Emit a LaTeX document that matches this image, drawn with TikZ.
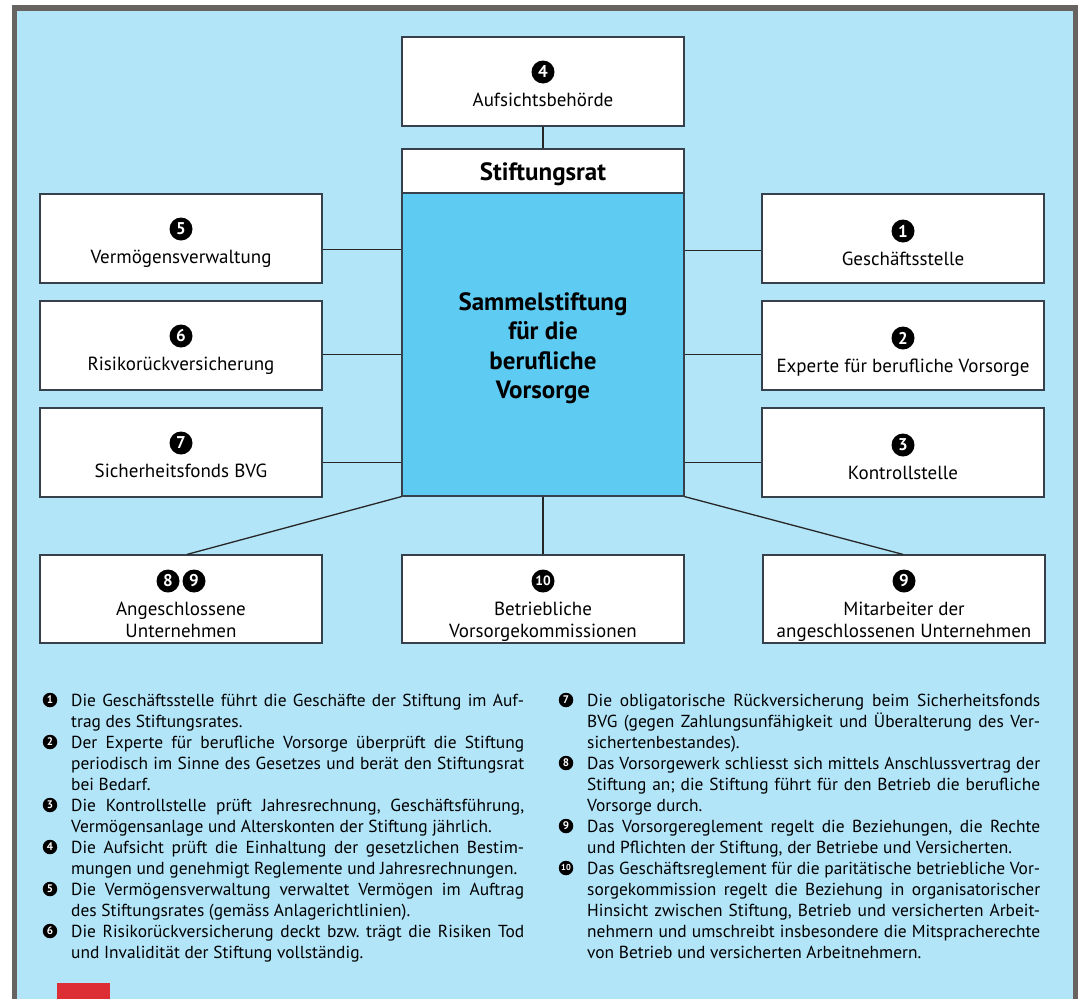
\documentclass[tikz,border=0pt]{standalone}
\usepackage{fontspec}
\setmainfont{PT Sans}
\usetikzlibrary{calc}
\definecolor{bgblue}{RGB}{179,229,249}
\definecolor{midblue}{RGB}{94,203,242}
\definecolor{framegray}{RGB}{102,99,96}
\definecolor{boxline}{RGB}{55,65,75}
\definecolor{redmark}{RGB}{220,46,52}
\newcommand{\J}[1]{\makebox[453pt][s]{#1}}
\frenchspacing
\begin{document}
\begin{tikzpicture}[x=1pt,y=-1pt,
  box/.style={draw=boxline, line width=1.2pt, fill=white, minimum width=282pt, minimum height=89pt, inner sep=0pt},
  num/.style={circle, fill=black, text=white, inner sep=0pt, minimum size=23pt, font=\fontsize{17}{17}\selectfont\bfseries},
  lbl/.style={anchor=base, inner sep=0pt, font=\fontsize{19}{22}\selectfont},
  big/.style={anchor=base, inner sep=0pt, font=\fontsize{25}{25}\selectfont\bfseries},
  ln/.style={anchor=base west, inner sep=0pt, font=\fontsize{17.4}{21}\selectfont},
  bul/.style={circle, fill=black, text=white, inner sep=0pt, minimum size=14.5pt, font=\fontsize{11}{11}\selectfont\bfseries},
  conn/.style={draw=black!85, line width=1.3pt}]
\useasboundingbox (0,0) rectangle (1091,999);
\fill[white] (0,0) rectangle (1091,999);
\fill[framegray] (12,5) rectangle (1078,999);
\fill[bgblue] (17,11) rectangle (1073,999);
\fill[redmark] (57,983) rectangle (110,999);

% top
\node[box] (auf) at (543,81.5) {};
\node[box, minimum height=44pt] (rat) at (543,171) {};
\node[box, fill=midblue, minimum height=303pt] (sam) at (543,344.5) {};
% left
\node[box] (L1) at (181,238.5) {};
\node[box] (L2) at (181,345.5) {};
\node[box] (L3) at (181,452.5) {};
% right
\node[box] (R1) at (903,238.5) {};
\node[box] (R2) at (903,345.5) {};
\node[box] (R3) at (903,452.5) {};
% bottom
\node[box, minimum height=88pt] (B1) at (181,599) {};
\node[box, minimum height=88pt] (B2) at (543,599) {};
\node[box, minimum height=88pt] (B3) at (904,599) {};

% connectors
\draw[conn] (auf.south) -- (rat.north);
\draw[conn] ([yshift=-11pt]L1.east) -- ([yshift=-11pt]L1.east -| sam.west);
\draw[conn] ([yshift=-9pt]L2.east) -- ([yshift=-9pt]L2.east -| sam.west);
\draw[conn] ([yshift=-10pt]L3.east) -- ([yshift=-10pt]L3.east -| sam.west);
\draw[conn] ([yshift=-12pt]R1.west) -- ([yshift=-12pt]R1.west -| sam.east);
\draw[conn] ([yshift=-9pt]R2.west) -- ([yshift=-9pt]R2.west -| sam.east);
\draw[conn] ([yshift=-10pt]R3.west) -- ([yshift=-10pt]R3.west -| sam.east);
\draw[conn] (sam.south west) -- ([xshift=6pt]B1.north);
\draw[conn] (sam.south) -- (B2.north);
\draw[conn] (sam.south east) -- ([xshift=-1pt]B3.north);

% box contents
\node[num] (n4) at (543,72) {4};
\node[lbl] (t4) at (543,106) {Aufsichtsbehörde};
\node[big] (trat) at (543,180) {Stiftungsrat};
\node[big] (s1) at (543,310) {Sammelstiftung};
\node[big] (s2) at (543,339.5) {für die};
\node[big] (s3) at (543,369) {berufliche};
\node[big] (s4) at (543,398.5) {Vorsorge};

\node[num] (n5) at (181,229) {5};
\node[lbl] (t5) at (181,263) {Vermögensverwaltung};
\node[num] (n6) at (181,336) {6};
\node[lbl] (t6) at (181,370) {Risikorückversicherung};
\node[num] (n7) at (181,443) {7};
\node[lbl] (t7) at (181,477) {Sicherheitsfonds BVG};

\node[num] (n1) at (903,231) {1};
\node[lbl] (t1) at (903,265) {Geschäftsstelle};
\node[num] (n2) at (903,338) {2};
\node[lbl] (t2) at (903,372) {Experte für berufliche Vorsorge};
\node[num] (n3) at (903,445) {3};
\node[lbl] (t3) at (903,479) {Kontrollstelle};

\node[num] (n8a) at (168,581) {8};
\node[num] (n9a) at (194,581) {9};
\node[lbl] (t8a) at (181,615) {Angeschlossene};
\node[lbl] (t8b) at (181,637) {Unternehmen};
\node[num, font=\fontsize{13.5}{13.5}\selectfont\bfseries] (n10) at (543,581) {10};
\node[lbl] (t10a) at (543,615) {Betriebliche};
\node[lbl] (t10b) at (543,637) {Vorsorgekommissionen};
\node[num] (n9b) at (904,581) {9};
\node[lbl] (t9a) at (904,615) {Mitarbeiter der};
\node[lbl] (t9b) at (904,637) {angeschlossenen Unternehmen};

% notes left
\node[ln] (l1) at (71,706) {\J{Die Geschäftsstelle führt die Geschäfte der Stiftung im Auf-}};
\node[ln] (l2) at (71,727) {trag des Stiftungsrates.};
\node[ln] (l3) at (71,748) {\J{Der Experte für berufliche Vorsorge überprüft die Stiftung}};
\node[ln] (l4) at (71,769) {\J{periodisch im Sinne des Gesetzes und berät den Stiftungsrat}};
\node[ln] (l5) at (71,790) {bei Bedarf.};
\node[ln] (l6) at (71,811) {\J{Die Kontrollstelle prüft Jahresrechnung, Geschäftsführung,}};
\node[ln] (l7) at (71,832) {Vermögensanlage und Alterskonten der Stiftung jährlich.};
\node[ln] (l8) at (71,853) {\J{Die Aufsicht prüft die Einhaltung der gesetzlichen Bestim-}};
\node[ln] (l9) at (71,874) {mungen und genehmigt Reglemente und Jahresrechnungen.};
\node[ln] (l10) at (71,895) {\J{Die Vermögensverwaltung verwaltet Vermögen im Auftrag}};
\node[ln] (l11) at (71,916) {des Stiftungsrates (gemäss Anlagerichtlinien).};
\node[ln] (l12) at (71,937) {\J{Die Risikorückversicherung deckt bzw. trägt die Risiken Tod}};
\node[ln] (l13) at (71,958) {und Invalidität der Stiftung vollständig.};
\node[bul] (b1) at (50,700) {1};
\node[bul] (b2) at (50,742) {2};
\node[bul] (b3) at (50,805) {3};
\node[bul] (b4) at (50,847) {4};
\node[bul] (b5) at (50,889) {5};
\node[bul] (b6) at (50,931) {6};

% notes right
\node[ln] (r1) at (587,706) {\J{Die obligatorische Rückversicherung beim Sicherheitsfonds}};
\node[ln] (r2) at (587,727) {\J{BVG (gegen Zahlungsunfähigkeit und Überalterung des Ver-}};
\node[ln] (r3) at (587,748) {sichertenbestandes).};
\node[ln] (r4) at (587,769) {\J{Das Vorsorgewerk schliesst sich mittels Anschlussvertrag der}};
\node[ln] (r5) at (587,790) {\J{Stiftung an; die Stiftung führt für den Betrieb die berufliche}};
\node[ln] (r6) at (587,811) {Vorsorge durch.};
\node[ln] (r7) at (587,832) {\J{Das Vorsorgereglement regelt die Beziehungen, die Rechte}};
\node[ln] (r8) at (587,853) {und Pflichten der Stiftung, der Betriebe und Versicherten.};
\node[ln] (r9) at (587,874) {\J{Das Geschäftsreglement für die paritätische betriebliche Vor-}};
\node[ln] (r10) at (587,895) {\J{sorgekommission regelt die Beziehung in organisatorischer}};
\node[ln] (r11) at (587,916) {\J{Hinsicht zwischen Stiftung, Betrieb und versicherten Arbeit-}};
\node[ln] (r12) at (587,937) {\J{nehmern und umschreibt insbesondere die Mitspracherechte}};
\node[ln] (r13) at (587,958) {von Betrieb und versicherten Arbeitnehmern.};
\node[bul] (b7) at (566,700) {7};
\node[bul] (b8) at (566,763) {8};
\node[bul] (b9) at (566,826) {9};
\node[bul, font=\fontsize{8.5}{8.5}\selectfont\bfseries] (b10) at (566,868) {10};
\end{tikzpicture}
\end{document}
